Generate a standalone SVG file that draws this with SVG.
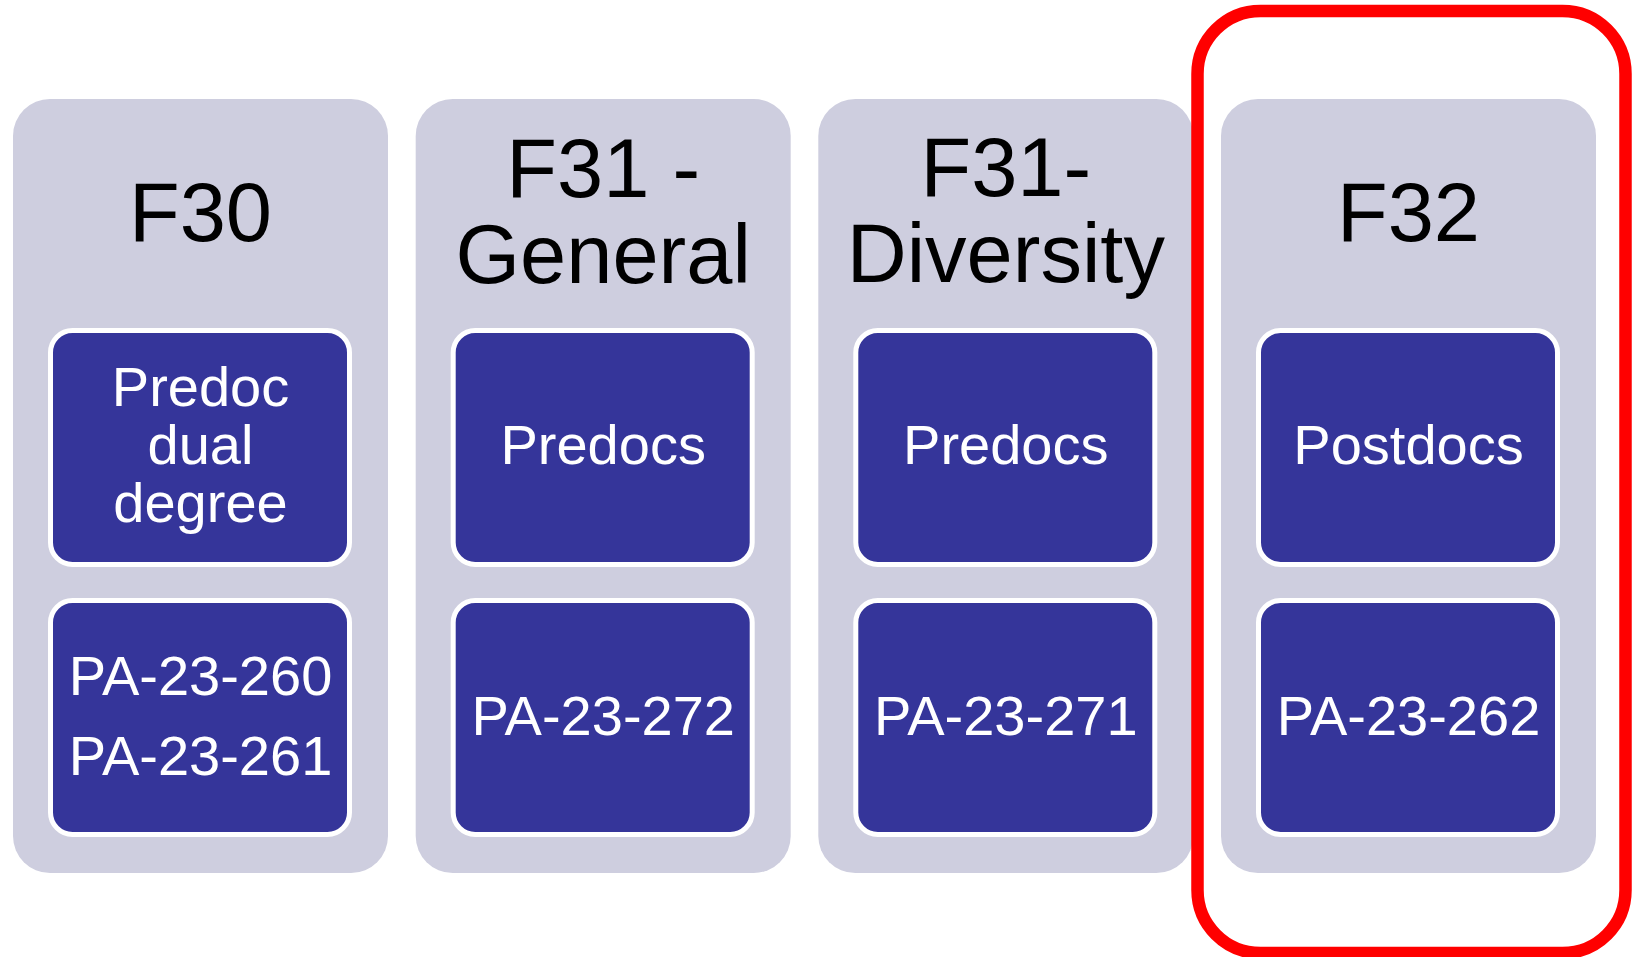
<svg xmlns="http://www.w3.org/2000/svg" width="1639" height="957" viewBox="0 0 1639 957">
<style>
.col{fill:#CECEDF}
.box{fill:#35359A;stroke:#FFFFFF;stroke-width:5}
.hd{font-family:"Liberation Sans",Arial,sans-serif;font-size:83px;fill:#000000;text-anchor:middle}
.bt{font-family:"Liberation Sans",Arial,sans-serif;font-size:56px;fill:#FFFFFF;text-anchor:middle}
</style>
<rect width="1639" height="957" fill="#FFFFFF"/>
<g id="col-f30">
<rect class="col" x="13" y="99" width="375" height="774" rx="37"/>
<text class="hd" x="200.5" y="241">F30</text>
<rect class="box" x="50.5" y="330.5" width="299" height="234" rx="22"/>
<text class="bt" x="200.5" y="406">Predoc</text>
<text class="bt" x="200.5" y="464">dual</text>
<text class="bt" x="200.5" y="522">degree</text>
<rect class="box" x="50.5" y="600.5" width="299" height="234" rx="22"/>
<text class="bt" x="200.5" y="695">PA-23-260</text>
<text class="bt" x="200.5" y="775">PA-23-261</text>
</g>
<g id="col-f31-general">
<rect class="col" x="415.7" y="99" width="375" height="774" rx="37"/>
<text class="hd" x="603.2" y="197">F31 -</text>
<text class="hd" x="603.2" y="283">General</text>
<rect class="box" x="453.2" y="330.5" width="299" height="234" rx="22"/>
<text class="bt" x="603.2" y="464">Predocs</text>
<rect class="box" x="453.2" y="600.5" width="299" height="234" rx="22"/>
<text class="bt" x="603.2" y="735">PA-23-272</text>
</g>
<g id="col-f31-diversity">
<rect class="col" x="818.3" y="99" width="375" height="774" rx="37"/>
<text class="hd" x="1005.8" y="196">F31-</text>
<text class="hd" x="1005.8" y="282">Diversity</text>
<rect class="box" x="855.8" y="330.5" width="299" height="234" rx="22"/>
<text class="bt" x="1005.8" y="464">Predocs</text>
<rect class="box" x="855.8" y="600.5" width="299" height="234" rx="22"/>
<text class="bt" x="1005.8" y="735">PA-23-271</text>
</g>
<g id="col-f32">
<rect class="col" x="1221" y="99" width="375" height="774" rx="37"/>
<text class="hd" x="1408.5" y="241">F32</text>
<rect class="box" x="1258.5" y="330.5" width="299" height="234" rx="22"/>
<text class="bt" x="1408.5" y="464">Postdocs</text>
<rect class="box" x="1258.5" y="600.5" width="299" height="234" rx="22"/>
<text class="bt" x="1408.5" y="735">PA-23-262</text>
</g>
<g id="highlight">
<rect x="1197.5" y="11" width="428" height="942" rx="63" fill="none" stroke="#FF0000" stroke-width="12.5"/>
</g>
</svg>
